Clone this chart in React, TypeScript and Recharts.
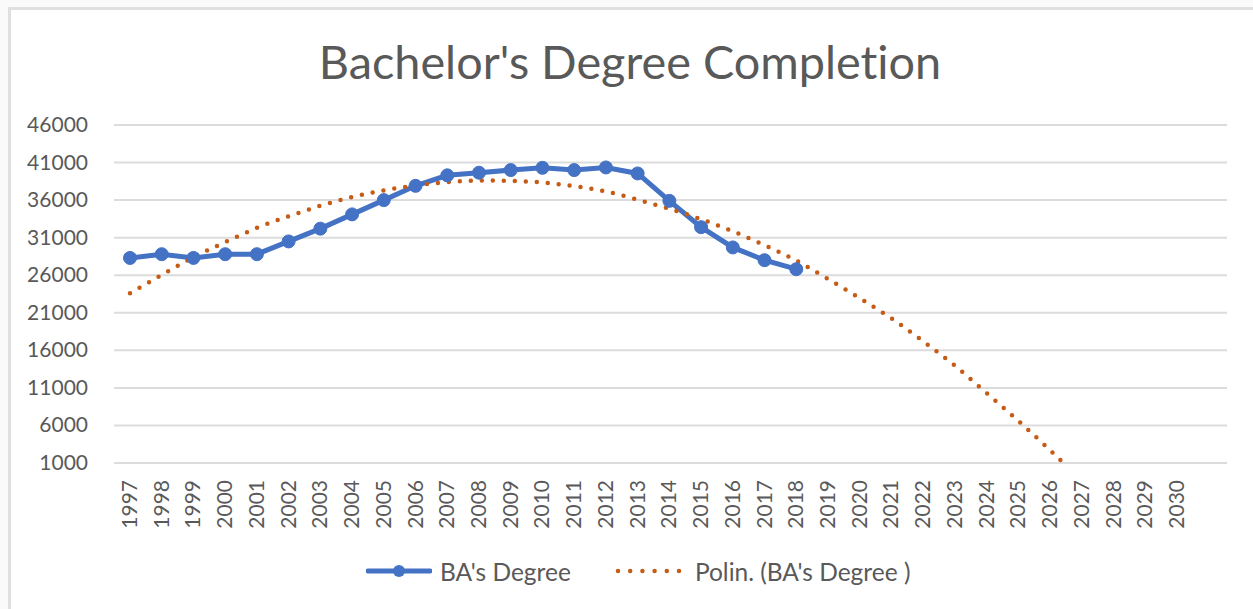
import React from 'react';
import { LineChart, Line, XAxis, YAxis, CartesianGrid, Legend } from 'recharts';

const years = [
  '1997', '1998', '1999', '2000', '2001', '2002', '2003', '2004', '2005', '2006',
  '2007', '2008', '2009', '2010', '2011', '2012', '2013', '2014', '2015', '2016',
  '2017', '2018', '2019', '2020', '2021', '2022', '2023', '2024', '2025', '2026',
  '2027', '2028', '2029', '2030',
];

// BA's Degree completions, 1997-2018
const baDegree = [
  28300, 28800, 28300, 28800, 28800, 30500, 32200, 34100, 36000, 37900,
  39300, 39650, 40000, 40300, 40000, 40350, 39550, 35900, 32400, 29700,
  28000, 26800,
];

// Polynomial trendline as drawn, 1997-2027 (runs below the axis floor after 2026)
const polyTrend = [
  23600, 26050, 28400, 30400, 32300, 33850, 35250, 36400, 37300, 37950,
  38400, 38600, 38550, 38350, 37850, 37150, 36050, 34850, 33450, 31850,
  30000, 27950, 25500, 22950, 20250, 17200, 13950, 10300, 6600, 2700,
  -1400,
];

const yTicks = [1000, 6000, 11000, 16000, 21000, 26000, 31000, 36000, 41000, 46000];

const seriesNames = ["BA's Degree", "Polin. (BA's Degree )"];

const data = years.map((year, i) => ({
  year,
  ba: i < baDegree.length ? baDegree[i] : null,
  trend: i < polyTrend.length ? polyTrend[i] : null,
}));

const FONT = 'Lato, "Open Sans", sans-serif';
const TEXT = '#595959';
const BLUE = '#4472C4';
const ORANGE = '#C65B16';

const XTick = (props: any) => {
  const { x, y, payload } = props;
  return (
    <text
      transform={`translate(${x + 7},${y + 17}) rotate(-90)`}
      textAnchor="end"
      fontSize={21}
      fill={TEXT}
      fontFamily={FONT}
    >
      {payload.value}
    </text>
  );
};

const YTick = (props: any) => {
  const { y, payload } = props;
  return (
    <text
      x={88}
      y={y}
      dy={7}
      textAnchor="end"
      fontSize={21}
      fill={TEXT}
      fontFamily={FONT}
    >
      {payload.value}
    </text>
  );
};

const LegendContent = () => (
  <div
    style={{
      display: 'flex',
      justifyContent: 'flex-start',
      alignItems: 'center',
      paddingLeft: 366,
      fontFamily: FONT,
      fontSize: 24.5,
      color: TEXT,
      height: 30,
      whiteSpace: 'nowrap',
    }}
  >
    <svg width={66} height={20} style={{ marginRight: 8 }}>
      <line x1={2} y1={10} x2={64} y2={10} stroke={BLUE} strokeWidth={5} strokeLinecap="round" />
      <circle cx={33} cy={10} r={6} fill={BLUE} />
    </svg>
    <span style={{ marginRight: 44 }}>{seriesNames[0]}</span>
    <svg width={72} height={20} style={{ marginRight: 8 }}>
      <line
        x1={3}
        y1={10}
        x2={69}
        y2={10}
        stroke={ORANGE}
        strokeWidth={4.5}
        strokeDasharray="0 12.2"
        strokeLinecap="round"
      />
    </svg>
    <span>{seriesNames[1]}</span>
  </div>
);

export default function App() {
  return (
    <div
      style={{
        position: 'absolute',
        left: 0,
        top: 0,
        width: 1253,
        height: 609,
        background: '#fafafa',
        overflow: 'hidden',
      }}
    >
      <div
        style={{
          position: 'absolute',
          left: 8,
          top: 7,
          width: 1270,
          height: 630,
          background: '#ffffff',
          borderLeft: '3px solid #e0e0e0',
          borderTop: '3px solid #e0e0e0',
        }}
      />
      <div
        style={{
          position: 'absolute',
          left: 0,
          top: 37,
          width: 1253,
          paddingLeft: 7,
          boxSizing: 'border-box',
          textAlign: 'center',
          fontFamily: FONT,
          fontSize: 46.8,
          lineHeight: '48px',
          color: TEXT,
          fontVariantLigatures: 'none',
          whiteSpace: 'nowrap',
        }}
      >
        Bachelor's Degree Completion
      </div>
      <div style={{ position: 'absolute', left: 0, top: 0 }}>
        <LineChart
          width={1253}
          height={609}
          data={data}
          margin={{ top: 125, right: 26, bottom: 66, left: 0 }}
        >
          <CartesianGrid vertical={false} stroke="#dcdcdc" strokeWidth={2} />
          <XAxis
            dataKey="year"
            interval={0}
            height={80}
            axisLine={false}
            tickLine={false}
            tickSize={0}
            tickMargin={0}
            padding={{ left: 16, right: 50 }}
            tick={<XTick />}
          />
          <YAxis
            width={114}
            domain={[1000, 46000]}
            ticks={yTicks}
            allowDataOverflow
            axisLine={false}
            tickLine={false}
            tickSize={0}
            tickMargin={0}
            tick={<YTick />}
          />
          <Line
            dataKey="ba"
            type="linear"
            stroke={BLUE}
            strokeWidth={5}
            dot={{ r: 6.5, fill: BLUE, stroke: BLUE, strokeWidth: 1 }}
            activeDot={false}
            isAnimationActive={false}
          />
          <Line
            dataKey="trend"
            type="natural"
            stroke={ORANGE}
            strokeWidth={4.5}
            strokeDasharray="0 11"
            strokeLinecap="round"
            dot={false}
            activeDot={false}
            isAnimationActive={false}
          />
          <Legend
            layout="horizontal"
            verticalAlign="middle"
            align="center"
            wrapperStyle={{ top: 556, left: 0, width: 1253 }}
            content={<LegendContent />}
          />
        </LineChart>
      </div>
    </div>
  );
}
